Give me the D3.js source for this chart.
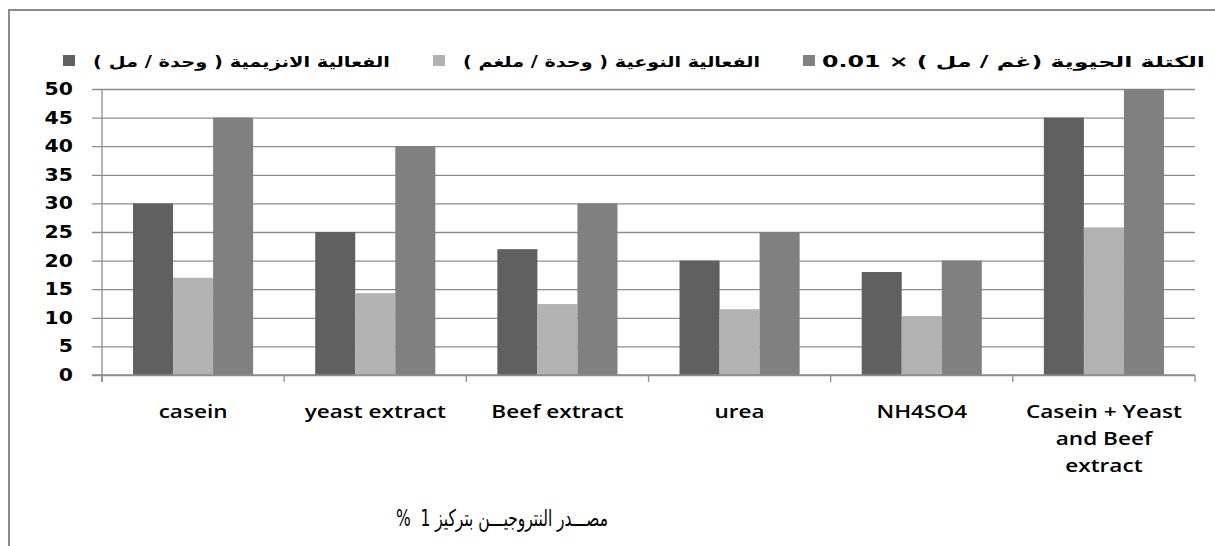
<!DOCTYPE html>
<html><head><meta charset="utf-8">
<script src="https://cdn.jsdelivr.net/npm/d3@7"></script>
<style>body{margin:0;background:#fff;} svg{display:block;}</style>
</head><body>
<svg id="c" width="1215" height="546"></svg>
<script>
const categories = ["casein", "yeast extract", "Beef extract", "urea", "NH4SO4", "Casein + Yeast|and Beef|extract"];
const seriesNames = ["الفعالية الانزيمية ( وحدة / مل )", "الفعالية النوعية ( وحدة / ملغم )", "الكتلة الحيوية (غم / مل ) × 0.01"];
const enzymeActivity = [30, 25, 22, 20, 18, 45];
const specificActivity = [17, 14.3, 12.4, 11.5, 10.3, 25.8];
const biomass = [45, 40, 30, 25, 20, 50];
const yTicks = [0, 5, 10, 15, 20, 25, 30, 35, 40, 45, 50];
const xTitle = "مصـــدر النتروجيـــن بتركيز 1\u00A0\u00A0%";
const colors = ["#606060", "#b2b2b2", "#808080"];

(function(){
const svg = d3.select("#c");
const pL = 102, pR = 1195, pT = 89, pB = 375;
const allSeries = [enzymeActivity, specificActivity, biomass];

svg.append("path").attr("d", "M9,546 L9,10 L1215,10").attr("fill", "none").attr("stroke", "#8a8a8a").attr("stroke-width", 2);

const x0 = d3.scaleBand().domain(categories).range([pL, pR]).paddingInner(0).paddingOuter(0);
const x1 = d3.scaleBand().domain([0, 1, 2]).range([0, x0.bandwidth()]).paddingInner(0).paddingOuter(0.775);
const y = d3.scaleLinear().domain([0, 50]).range([pB, pT]);

const yAxis = d3.axisLeft(y).tickValues(yTicks).tickSize(-(pR - pL)).tickSizeOuter(0).tickFormat("");
const gy = svg.append("g").attr("transform", `translate(${pL},0)`).call(yAxis);
gy.select(".domain").remove();
gy.selectAll(".tick line").attr("stroke", "#8c8c8c").attr("stroke-width", 1.3).attr("x1", -10);

categories.forEach((c, i) => {
  allSeries.forEach((s, k) => {
    svg.append("rect")
      .attr("x", x0(c) + x1(k))
      .attr("y", y(s[i]))
      .attr("width", x1.bandwidth())
      .attr("height", y(0) - y(s[i]))
      .attr("fill", colors[k]);
  });
});

svg.append("line").attr("x1", pL).attr("x2", pL).attr("y1", pT).attr("y2", pB + 7).attr("stroke", "#8c8c8c").attr("stroke-width", 1.3);
svg.append("line").attr("x1", pL - 10).attr("x2", pR).attr("y1", pB).attr("y2", pB).attr("stroke", "#8c8c8c").attr("stroke-width", 1.3);
const catEdges = categories.map(c => x0(c)).concat([pR]);
catEdges.forEach(xe => {
  svg.append("line").attr("x1", xe).attr("x2", xe).attr("y1", pB).attr("y2", pB + 7).attr("stroke", "#8c8c8c").attr("stroke-width", 1.3);
});

yTicks.forEach(t => {
  svg.append("g").attr("transform", `translate(73,${y(t) + 6}) scale(1.2,1)`)
    .append("text").attr("x", 0).attr("y", 0).attr("text-anchor", "end")
    .attr("font-family", "DejaVu Sans").attr("font-weight", "bold").attr("font-size", 17)
    .attr("fill", "#000").text(t);
});

categories.forEach(c => {
  const lines = c.split("|");
  const cx = x0(c) + x0.bandwidth() / 2;
  const t = svg.append("g").attr("transform", `translate(${cx},418) scale(1.22,1)`)
    .append("text").attr("x", 0).attr("y", 0).attr("text-anchor", "middle")
    .attr("font-family", "Open Sans").attr("font-weight", 600).attr("font-size", 18.5).attr("fill", "#000");
  lines.forEach((l, j) => t.append("tspan").attr("x", 0).attr("dy", j === 0 ? 0 : 27).text(l));
});

const legendItems = [{sq: 63, x1: 93, x2: 390}, {sq: 433, x1: 463, x2: 760}, {sq: 803, x1: 822, x2: 1205}];
legendItems.forEach((it, k) => {
  svg.append("rect").attr("x", it.sq).attr("y", 55).attr("width", 12).attr("height", 11).attr("fill", colors[k]);
  svg.append("text").attr("x", (it.x1 + it.x2) / 2).attr("y", 67).attr("text-anchor", "middle").attr("direction", "rtl")
    .attr("font-family", "DejaVu Sans").attr("font-weight", "bold").attr("font-size", 15).attr("fill", "#000")
    .attr("textLength", it.x2 - it.x1).attr("lengthAdjust", "spacingAndGlyphs")
    .text(seriesNames[k]);
});

svg.append("text").attr("x", 502).attr("y", 526).attr("text-anchor", "middle").attr("direction", "rtl")
  .attr("font-family", "DejaVu Sans").attr("font-size", 23).attr("fill", "#000")
  .attr("textLength", 212).attr("lengthAdjust", "spacingAndGlyphs").text(xTitle);
})();
</script>
</body></html>
